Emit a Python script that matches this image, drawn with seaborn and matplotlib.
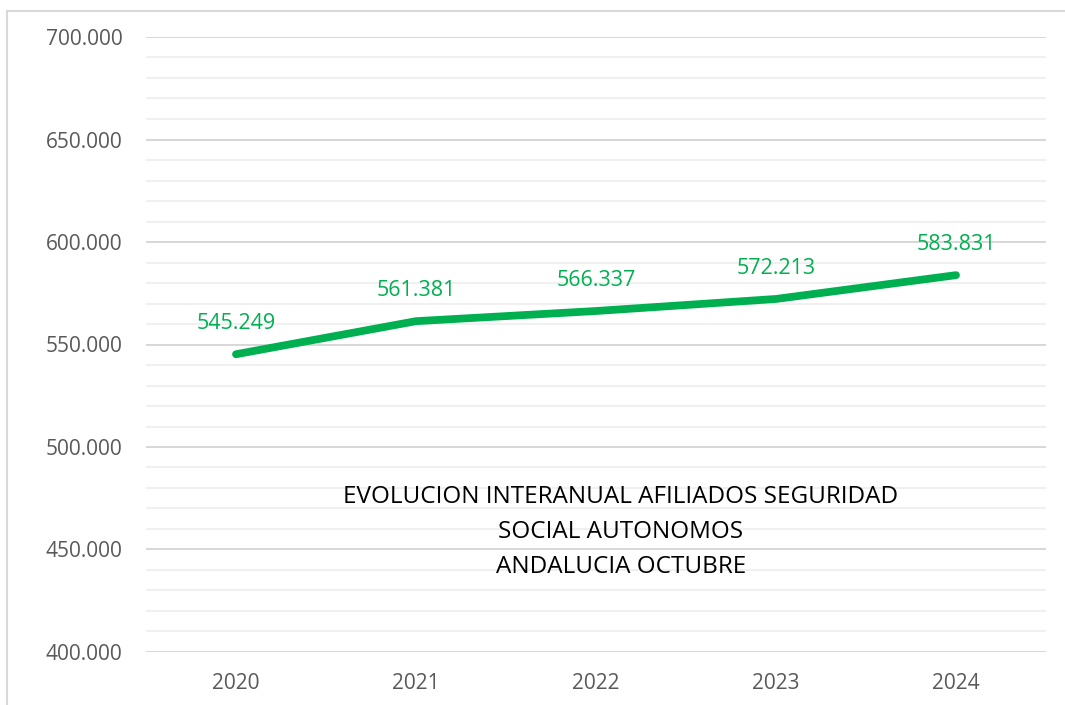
import matplotlib
matplotlib.use("Agg")
import matplotlib.pyplot as plt
import seaborn as sns
import pandas as pd
from matplotlib.lines import Line2D
from matplotlib.ticker import MultipleLocator, FuncFormatter

# data
years = ["2020", "2021", "2022", "2023", "2024"]
afiliados = [545249, 561381, 566337, 572213, 583831]
title_lines = ["EVOLUCION INTERANUAL AFILIADOS SEGURIDAD", "SOCIAL AUTONOMOS", "ANDALUCIA OCTUBRE"]

green = "#00B050"
grey_txt = "#595959"

sns.set_theme(style="white")
plt.rcParams["font.family"] = ["Open Sans", "DejaVu Sans"]

df = pd.DataFrame({"year": years, "value": afiliados})

fig = plt.figure(figsize=(10.65, 7.05), dpi=100)
ax = fig.add_axes([146 / 1065, 1 - 652 / 705, 900 / 1065, 615 / 705])

sns.lineplot(data=df, x="year", y="value", ax=ax, color=green, linewidth=5.6,
             solid_capstyle="round", sort=False)

for i, v in enumerate(afiliados):
    ax.annotate(f"{v:,}".replace(",", "."), (i, v), xytext=(0, 22), textcoords="offset points",
                ha="center", va="center", color=green, fontsize=15.5)

ax.set_xlim(-0.5, 4.5)
ax.set_ylim(400000, 700000)
ax.yaxis.set_major_locator(MultipleLocator(50000))
ax.yaxis.set_minor_locator(MultipleLocator(10000))
ax.yaxis.set_major_formatter(FuncFormatter(lambda v, p: f"{int(v):,}".replace(",", ".")))
ax.grid(axis="y", which="major", color="#d4d4d4", linewidth=1.3)
ax.grid(axis="y", which="minor", color="#efefef", linewidth=1.3)
ax.set_axisbelow(True)
for s in ax.spines.values():
    s.set_visible(False)
ax.tick_params(axis="both", which="both", length=0, labelsize=15, colors=grey_txt)
ax.tick_params(axis="y", pad=17)
ax.tick_params(axis="x", pad=15)
ax.set_xlabel("")
ax.set_ylabel("")

fig.text(621 / 1065, 1 - 532 / 705, "\n".join(title_lines), ha="center", va="center",
         fontsize=17.5, color="black", linespacing=1.62)

# chart frame: only left and top edges are visible in the crop
fx, fy = 7 / 1065, 1 - 11 / 705
fig.add_artist(Line2D([fx, fx], [0, fy], transform=fig.transFigure, color="#d9d9d9", linewidth=1.5))
fig.add_artist(Line2D([fx, 1], [fy, fy], transform=fig.transFigure, color="#d9d9d9", linewidth=1.5))

fig.savefig("out.png", dpi=100)
